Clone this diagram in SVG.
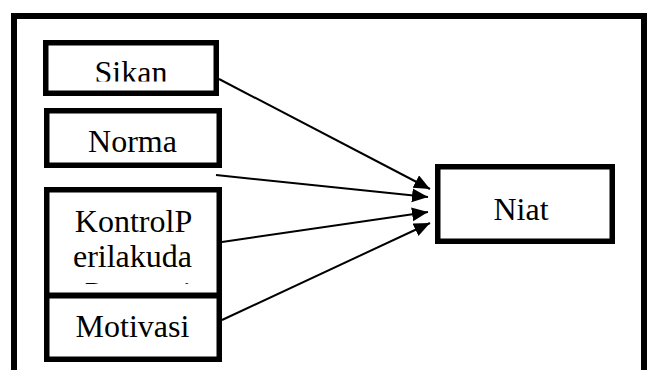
<svg xmlns="http://www.w3.org/2000/svg" width="649" height="370" viewBox="0 0 649 370">
<style>
.box{fill:#fff;stroke:#000;stroke-width:5.5}
.lbl{font-family:"Liberation Serif","Times New Roman",serif;font-size:32px;fill:#000;text-anchor:middle}
.conn{stroke:#000;stroke-width:2;fill:none}
</style>
<defs>
<marker id="ah" markerUnits="userSpaceOnUse" markerWidth="18" markerHeight="16" refX="16" refY="7" orient="auto">
<path d="M0,0 L16,7 L0,14 Z" fill="#000"/>
</marker>
<clipPath id="cSikan"><rect x="48" y="45" width="166" height="36.5"/></clipPath>
<clipPath id="cKontrol"><rect x="49" y="192" width="168" height="92"/></clipPath>
</defs>
<rect x="0" y="0" width="649" height="370" fill="#fff"/>
<rect x="14" y="16" width="630" height="380" fill="none" stroke="#000" stroke-width="6"/>
<g id="sikan">
<rect class="box" x="45.75" y="42.75" width="170.5" height="50.5"/>
<text class="lbl" x="131" y="83" clip-path="url(#cSikan)">Sikan</text>
</g>
<g id="norma">
<rect class="box" x="46.75" y="110.75" width="172.5" height="54.5"/>
<text class="lbl" x="132.5" y="151.5">Norma</text>
</g>
<g id="kontrol">
<rect class="box" x="46.75" y="189.75" width="172.5" height="105.5"/>
<g clip-path="url(#cKontrol)">
<text class="lbl" x="133.5" y="231.5">KontrolP</text>
<text class="lbl" x="132.5" y="267">erilakuda</text>
<text class="lbl" x="138" y="304">Persepsi</text>
</g>
</g>
<g id="motivasi">
<rect class="box" x="46.75" y="295.75" width="172.5" height="63.5"/>
<text class="lbl" x="132.5" y="336.5">Motivasi</text>
</g>
<g id="niat">
<rect class="box" x="437.75" y="166.75" width="174.5" height="74.5"/>
<text class="lbl" x="521" y="220">Niat</text>
</g>
<g id="connectors">
<line class="conn" x1="219" y1="79" x2="430" y2="189" marker-end="url(#ah)"/>
<line class="conn" x1="216" y1="175" x2="428" y2="197" marker-end="url(#ah)"/>
<line class="conn" x1="222" y1="242" x2="428" y2="212" marker-end="url(#ah)"/>
<line class="conn" x1="222" y1="320" x2="430" y2="223" marker-end="url(#ah)"/>
</g>
</svg>
